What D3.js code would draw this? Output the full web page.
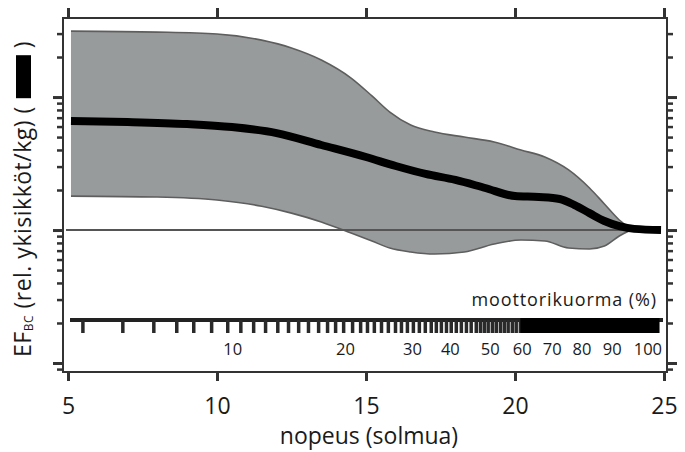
<!DOCTYPE html>
<html>
<head>
<meta charset="utf-8">
<script src="https://cdn.jsdelivr.net/npm/d3@7"></script>
<style>
  body { margin: 0; background: #fff; }
  text { font-family: 'Open Sans', sans-serif; fill: #1a1a1a; }
</style>
</head>
<body>
<script>
// speed (knots) axis
const speedTicks = [5, 10, 15, 20, 25];

// median emission factor (relative units), thick black line
const medSpeed = [5.1, 7, 9, 10.5, 12, 13.5, 15, 16, 17, 18, 19, 20, 20.8, 21.5, 22, 22.5, 23, 23.5, 24, 24.9];
const efMedian = [6.60, 6.49, 6.27, 5.95, 5.36, 4.36, 3.54, 3.03, 2.64, 2.38, 2.07, 1.80, 1.77, 1.71, 1.54, 1.34, 1.17, 1.07, 1.02, 1.00];

// grey spread band
const bandSpeed = [5.1, 8, 10, 11.5, 12.5, 13.5, 14.5, 15.2, 15.8, 16.5, 17.3, 18.3, 19.3, 20.2, 21, 21.8, 22.5, 23, 23.5, 23.9];
const bandUpper = [31.3, 30.8, 29.8, 26.8, 23.4, 19.0, 13.9, 10.2, 7.71, 6.16, 5.46, 5.00, 4.59, 4.00, 3.54, 2.83, 2.07, 1.57, 1.19, 1.02];
const bandLower = [1.80, 1.77, 1.68, 1.51, 1.34, 1.15, 0.949, 0.827, 0.732, 0.684, 0.660, 0.684, 0.785, 0.841, 0.827, 0.732, 0.720, 0.758, 0.901, 1.00];

// rug of observed speeds, and where it becomes solid
const rugSpeed = [5.50, 6.84, 7.88, 8.65, 9.22, 9.82, 10.36, 10.80, 11.23, 11.63, 12.04, 12.40, 12.74, 13.07,
  13.41, 13.71, 13.98, 14.25, 14.55, 14.82, 15.05, 15.28, 15.52, 15.75, 15.99, 16.19, 16.39, 16.59, 16.79,
  16.99, 17.19, 17.36, 17.53, 17.70, 17.86, 18.03, 18.20, 18.37, 18.53, 18.70, 18.84, 18.97, 19.10, 19.24,
  19.37, 19.51, 19.64, 19.77, 19.91, 20.04, 20.18];
const rugDense = [20.18, 24.85];

// engine load labels (%) placed at speed
const loadLabels = ['10', '20', '30', '40', '50', '60', '70', '80', '90', '100'];
const loadSpeed = [10.53, 14.31, 16.56, 17.83, 19.17, 20.24, 21.25, 22.25, 23.26, 24.46];

const W = 685, H = 452;
const frame = { left: 63, right: 667, top: 18, bottom: 372 };

const svg = d3.select('body').append('svg').attr('width', W).attr('height', H);

const x = d3.scaleLinear().domain([5, 25]).range([68, 664]);
const y = d3.scaleLog().domain([0.0856, 39.3]).range([frame.bottom, frame.top]);

// band
const area = d3.area()
  .x((d, i) => x(bandSpeed[i]))
  .y0((d, i) => y(bandLower[i]))
  .y1((d, i) => y(bandUpper[i]))
  .curve(d3.curveMonotoneX);
svg.append('path').datum(bandSpeed).attr('d', area).attr('fill', '#989b9c');

const edge = vals => d3.line()
  .x((d, i) => x(bandSpeed[i]))
  .y((d, i) => y(vals[i]))
  .curve(d3.curveMonotoneX);
[bandUpper, bandLower].forEach(v => {
  svg.append('path').datum(bandSpeed).attr('d', edge(v))
    .attr('fill', 'none').attr('stroke', '#5e5e5e').attr('stroke-width', 1.6);
});

// reference line at 1
svg.append('line')
  .attr('x1', frame.left + 3).attr('x2', x(24.9))
  .attr('y1', y(1)).attr('y2', y(1))
  .attr('stroke', '#555').attr('stroke-width', 2);

// median
svg.append('path').datum(medSpeed)
  .attr('d', d3.line().x((d, i) => x(medSpeed[i])).y((d, i) => y(efMedian[i])).curve(d3.curveMonotoneX))
  .attr('fill', 'none').attr('stroke', '#000').attr('stroke-width', 8);

// rug
const rugY = 320;
svg.append('line').attr('x1', 70).attr('x2', 663).attr('y1', rugY).attr('y2', rugY)
  .attr('stroke', '#222').attr('stroke-width', 4);
svg.append('g').selectAll('line').data(rugSpeed).enter().append('line')
  .attr('x1', d => x(d)).attr('x2', d => x(d))
  .attr('y1', rugY).attr('y2', rugY + 13)
  .attr('stroke', '#2a2a2a').attr('stroke-width', 3.5);
svg.append('rect')
  .attr('x', x(rugDense[0])).attr('width', x(rugDense[1]) - x(rugDense[0]))
  .attr('y', rugY - 2).attr('height', 15).attr('fill', '#000');

svg.append('g').selectAll('text').data(loadLabels).enter().append('text')
  .attr('x', (d, i) => x(loadSpeed[i])).attr('y', 355)
  .attr('text-anchor', 'middle').style('font-size', '16.5px')
  .text(d => d);
svg.append('text').attr('x', 657).attr('y', 306).attr('text-anchor', 'end')
  .style('font-size', '18px').style('letter-spacing', '0.9px').text('moottorikuorma (%)');

// frame
svg.append('rect')
  .attr('x', frame.left).attr('y', frame.top)
  .attr('width', frame.right - frame.left).attr('height', frame.bottom - frame.top)
  .attr('fill', 'none').attr('stroke', '#333').attr('stroke-width', 2);

// x axes (bottom with labels, top ticks only)
const xb = svg.append('g').attr('transform', `translate(0,${frame.bottom})`)
  .call(d3.axisBottom(x).tickValues(speedTicks).tickSize(9).tickPadding(17).tickFormat(d3.format('d')));
const xt = svg.append('g').attr('transform', `translate(0,${frame.top})`)
  .call(d3.axisTop(x).tickValues(speedTicks).tickSize(10).tickFormat(''));
[xb, xt].forEach(g => {
  g.select('.domain').remove();
  g.selectAll('line').attr('stroke', '#333').attr('stroke-width', 3);
});
xb.selectAll('text').style('font-size', '23px').style('font-family', "'Open Sans', sans-serif").attr('fill', '#1a1a1a');

// log y axes, ticks only
const yt = y.ticks();
const isMajor = d => Math.abs(Math.log10(d) - Math.round(Math.log10(d))) < 1e-6;
[[d3.axisLeft, frame.left], [d3.axisRight, frame.right]].forEach(([ax, px]) => {
  const g = svg.append('g').attr('transform', `translate(${px},0)`)
    .call(ax(y).tickValues(yt).tickSize(6).tickFormat(''));
  g.select('.domain').remove();
  g.selectAll('.tick line')
    .attr('x2', d => (ax === d3.axisLeft ? -1 : 1) * (isMajor(d) ? 10 : 6))
    .attr('stroke', '#333').attr('stroke-width', d => isMajor(d) ? 3 : 2.5);
});

// x label
svg.append('text').attr('x', 369).attr('y', 444).attr('text-anchor', 'middle')
  .style('font-size', '23px').text('nopeus (solmua)');

// y label with legend swatch
const yl = svg.append('g').attr('transform', 'translate(31,357) rotate(-90)');
const t1 = yl.append('text').attr('x', 0).attr('y', 0).style('font-size', '23px').style('letter-spacing', '0.5px');
t1.append('tspan').text('EF');
t1.append('tspan').style('font-size', '12px').attr('dy', 2).text('BC');
t1.append('tspan').attr('dy', -2).text(' (rel. ykisikköt/kg) (');
const len = t1.node().getComputedTextLength();
yl.append('rect').attr('x', len + 8).attr('y', -15).attr('width', 43).attr('height', 15).attr('fill', '#000');
yl.append('text').attr('x', len + 58).attr('y', 0).style('font-size', '23px').text(')');
</script>
</body>
</html>
